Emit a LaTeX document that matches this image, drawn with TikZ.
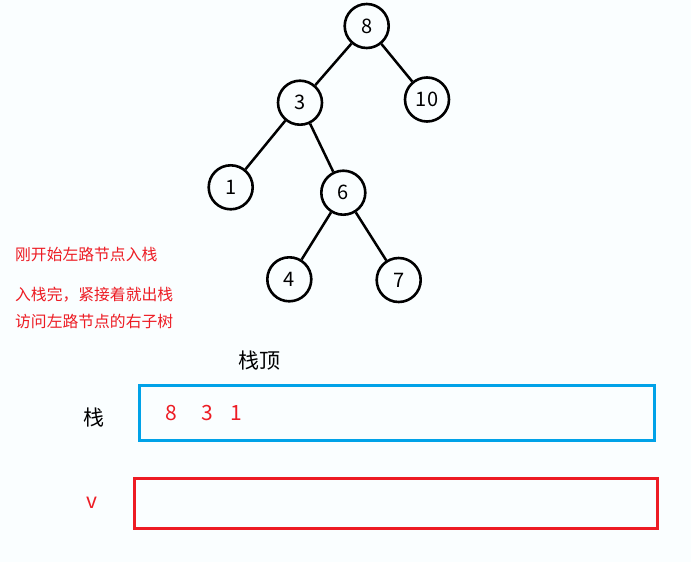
\documentclass[tikz,border=0pt]{standalone}
\usepackage{fontspec}
\setmainfont{Noto Sans CJK SC}
\definecolor{bgcol}{RGB}{250,254,255}
\definecolor{markred}{RGB}{237,28,36}
\definecolor{stackblue}{RGB}{0,162,232}
\tikzset{
  treenode/.style={circle,draw,line width=2.6pt,minimum size=44pt,inner sep=0pt,font=\fontsize{20}{24}\selectfont},
  treeedge/.style={line width=2.5pt},
  note/.style={anchor=west,inner sep=0pt,text=markred,font=\fontsize{15.8}{19}\selectfont},
  label/.style={inner sep=0pt,font=\fontsize{21}{25}\selectfont},
  stackbox/.style={line width=3pt}
}
\begin{document}
\begin{tikzpicture}[x=1pt,y=-1pt]
\fill[bgcol] (0,0) rectangle (691,562);
\useasboundingbox (0,0) rectangle (691,562);
\node[treenode] (n8) at (366.7,26) {8};
\node[treenode] (n10) at (427,99.5) {10};
\node[treenode] (n3) at (300,102.7) {3};
\node[treenode] (n1) at (230.7,187.3) {1};
\node[treenode] (n6) at (343.3,192.7) {6};
\node[treenode] (n4) at (289.3,279.3) {4};
\node[treenode] (n7) at (398.7,280) {7};
\draw[treeedge] (n8) -- (n3);
\draw[treeedge] (n8) -- (n10);
\draw[treeedge] (n3) -- (n1);
\draw[treeedge] (n3) -- (n6);
\draw[treeedge] (n6) -- (n4);
\draw[treeedge] (n6) -- (n7);
\node[note] (t1) at (15,255) {刚开始左路节点入栈};
\node[note] (t2) at (15,295) {入栈完，紧接着就出栈};
\node[note] (t3) at (15,321) {访问左路节点的右子树};
\node[label] (top) at (259,361) {栈顶};
\node[label] (stk) at (93.5,418) {栈};
\draw[stackbox,stackblue] (139.5,385) rectangle (654.5,440.5);
\node[label,text=markred] (s8) at (171.7,413.5) {8};
\node[label,text=markred] (s3) at (207.7,413.5) {3};
\node[label,text=markred] (s1) at (236.7,413.5) {1};
\node[label,text=markred] (v) at (91.5,503) {v};
\draw[stackbox,markred] (134.5,478.5) rectangle (657.5,528);
\end{tikzpicture}
\end{document}
